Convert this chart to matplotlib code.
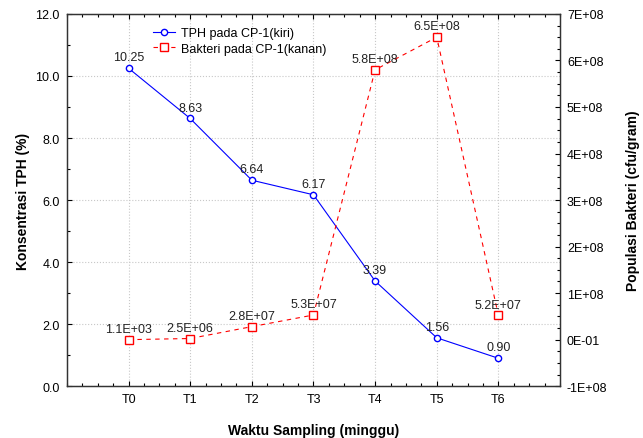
import matplotlib
matplotlib.use("Agg")
import matplotlib.pyplot as plt
from matplotlib.ticker import MultipleLocator, FixedLocator

plt.rcParams['font.family'] = ['Liberation Sans', 'DejaVu Sans']

# data
minggu = ["T0", "T1", "T2", "T3", "T4", "T5", "T6"]
tph = [10.25, 8.63, 6.64, 6.17, 3.39, 1.56, 0.90]
bakteri = [1.1e3, 2.5e6, 2.8e7, 5.3e7, 5.8e8, 6.5e8, 5.2e7]
bakteri_label = ["1.1E+03", "2.5E+06", "2.8E+07", "5.3E+07", "5.8E+08", "6.5E+08", "5.2E+07"]
kanan_ticks = [-1e8, 0, 1e8, 2e8, 3e8, 4e8, 5e8, 6e8, 7e8]
kanan_labels = ["-1E+08", "0E-01", "1E+08", "2E+08", "3E+08", "4E+08", "5E+08", "6E+08", "7E+08"]

x = list(range(len(minggu)))

fig = plt.figure(figsize=(6.43, 4.39), dpi=100)
ax = fig.add_axes([0.104, 0.118, 0.767, 0.848])
ax2 = ax.twinx()

# TPH (kiri)
l1, = ax.plot(x, tph, color="blue", lw=0.8, marker="o", ms=4.5, mfc="white",
              mec="blue", mew=1.0, label="TPH pada CP-1(kiri)", zorder=3)
for xi, v in zip(x, tph):
    ax.annotate("%.2f" % v, (xi, v), xytext=(0, 3.5), textcoords="offset points",
                ha="center", va="bottom", fontsize=9, color="#222222")

# bakteri (kanan)
l2, = ax2.plot(x, bakteri, color="red", lw=0.8, ls=(0, (4, 4)), marker="s", ms=5.5,
               mfc="white", mec="red", mew=1.0, label="Bakteri pada CP-1(kanan)")
for xi, v, s in zip(x, bakteri, bakteri_label):
    ax2.annotate(s, (xi, v), xytext=(0, 3.5), textcoords="offset points",
                 ha="center", va="bottom", fontsize=9, color="#222222")

ax.set_xlim(-1, 7)
ax.set_ylim(0, 12)
ax2.set_ylim(-1e8, 7e8)

ax.xaxis.set_major_locator(FixedLocator(x))
ax.set_xticklabels(minggu)
ax.xaxis.set_minor_locator(MultipleLocator(0.25))
ax.yaxis.set_major_locator(MultipleLocator(2))
ax.yaxis.set_minor_locator(MultipleLocator(1))
ax.yaxis.set_major_formatter(matplotlib.ticker.FormatStrFormatter("%.1f"))

ax2.yaxis.set_major_locator(FixedLocator(kanan_ticks))
ax2.set_yticklabels(kanan_labels)
ax2.yaxis.set_minor_locator(MultipleLocator(0.25e8))

ax.tick_params(which="both", direction="in", top=True, labelsize=9, pad=5)
ax.tick_params(which="major", length=3.5, width=0.8)
ax.tick_params(which="minor", length=2.5, width=0.8)
ax2.tick_params(which="both", direction="in", labelsize=9, pad=5)
ax2.tick_params(which="major", length=3.5, width=0.8)
ax2.tick_params(which="minor", length=2.5, width=0.8)

ax.grid(True, which="major", color="#c8c8c8", ls=":", lw=0.8)
ax.set_axisbelow(True)

for a in (ax, ax2):
    for sp in a.spines.values():
        sp.set_linewidth(0.9)
        sp.set_color("#333333")

ax.set_xlabel("Waktu Sampling (minggu)", fontsize=10, fontweight="bold", labelpad=13)
ax.set_ylabel("Konsentrasi TPH (%)", fontsize=10, fontweight="bold", labelpad=4)
ax2.set_ylabel("Populasi Bakteri (cfu/gram)", fontsize=10, fontweight="bold", labelpad=13)

ax2.legend(handles=[l1, l2], loc="upper left", bbox_to_anchor=(0.16, 0.985), frameon=False,
           fontsize=9, handlelength=1.7, handletextpad=0.5, labelspacing=0.3,
           borderaxespad=0.2)

fig.savefig("out.png", dpi=100)
